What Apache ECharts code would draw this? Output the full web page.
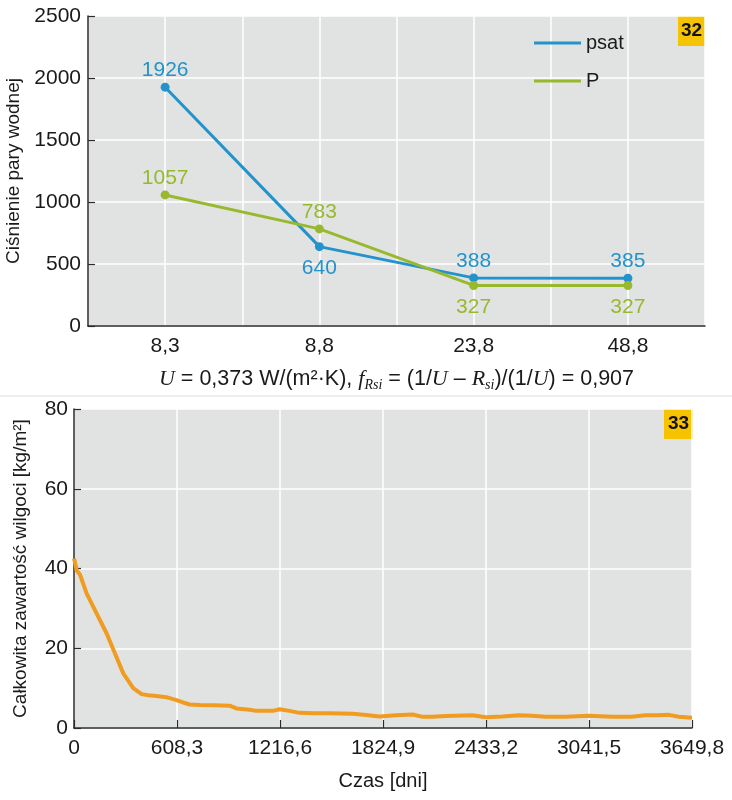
<!DOCTYPE html>
<html>
<head>
<meta charset="utf-8">
<script src="https://cdn.jsdelivr.net/npm/echarts@6/dist/echarts.min.js"></script>
<style>
html,body{margin:0;padding:0;background:#fff;}
#chart{width:732px;height:800px;}
</style>
</head>
<body>
<div id="chart"></div>
<script>
// ---- Chart 32 data ----
const categories = ['8,3', '8,8', '23,8', '48,8'];
const psatValues = [1926, 640, 388, 385];
const pValues = [1057, 783, 327, 327];
const pressureTicks = [0, 500, 1000, 1500, 2000, 2500];

// ---- Chart 33 data ----
const days = [0, 6, 16, 35, 75, 134, 193, 242, 291, 350, 399, 440, 487, 546, 566, 605, 644, 683, 743, 830, 919, 959, 1037, 1077, 1136, 1175, 1214, 1273, 1332, 1420, 1509, 1646, 1725, 1804, 1902, 2000, 2059, 2114, 2196, 2353, 2432, 2530, 2628, 2705, 2785, 2903, 3041, 3178, 3293, 3375, 3449, 3513, 3572, 3649.8];
const moisture = [42.5, 41.5, 39.5, 38.5, 33.7, 28.7, 23.7, 18.7, 13.7, 10, 8.5, 8.2, 8, 7.7, 7.5, 7, 6.4, 5.9, 5.75, 5.7, 5.6, 4.9, 4.6, 4.3, 4.3, 4.3, 4.7, 4.3, 3.8, 3.7, 3.7, 3.6, 3.25, 2.9, 3.2, 3.4, 2.8, 2.8, 3.0, 3.2, 2.7, 2.9, 3.2, 3.1, 2.8, 2.8, 3.1, 2.8, 2.8, 3.2, 3.2, 3.3, 2.8, 2.6];
const timeTickLabels = ['0', '608,3', '1216,6', '1824,9', '2433,2', '3041,5', '3649,8'];
const moistureTicks = [0, 20, 40, 60, 80];

const FONT = '"Liberation Sans", Arial, sans-serif';
const SERIF = '"Liberation Serif", "Times New Roman", serif';
const TXT = '#1a1a1a';
const AX = '#2b2b2b';
const BLUE = '#2393cc';
const GREEN = '#98b92d';
const ORANGE = '#ef9c20';
const BG = '#e1e3e3';

const chart = echarts.init(document.getElementById('chart'), null, {renderer: 'canvas'});

const moistureData = days.map((d, i) => [d, moisture[i]]);

const option = {
  animation: false,
  backgroundColor: '#ffffff',
  textStyle: {fontFamily: FONT, color: TXT},
  grid: [
    {left: 88, right: 27, top: 16, height: 310, show: true, backgroundColor: BG, borderWidth: 0, containLabel: false, outerBoundsMode: 'none'},
    {left: 74, right: 40, top: 409, height: 319, show: true, backgroundColor: BG, borderWidth: 0, containLabel: false, outerBoundsMode: 'none'}
  ],
  legend: {
    left: 529, top: 28, orient: 'vertical',
    icon: 'rect', itemWidth: 47, itemHeight: 3, itemGap: 18, itemTextGap: 7,
    textStyle: {fontSize: 20, color: TXT, fontFamily: FONT, lineHeight: 20},
    data: ['psat', 'P']
  },
  xAxis: [
    {
      type: 'category', gridIndex: 0, data: categories, boundaryGap: true,
      axisLine: {lineStyle: {color: AX, width: 1.5}},
      axisTick: {inside: true, length: 6, lineStyle: {color: AX, width: 1.2}},
      axisLabel: {fontSize: 21, color: TXT, margin: 10, fontFamily: FONT},
      splitLine: {show: false},
      name: '{i|U} = 0,373 W/(m²·K), {i|f}{sub|Rsi} = (1/{i|U} – {i|R}{sub|si})/(1/{i|U}) = 0,907',
      nameLocation: 'middle', nameGap: 40,
      nameTextStyle: {
        fontSize: 21.5, color: TXT, fontFamily: FONT,
        rich: {
          i: {fontFamily: SERIF, fontStyle: 'italic', fontSize: 22, color: TXT},
          sub: {fontFamily: SERIF, fontStyle: 'italic', fontSize: 14, color: TXT, padding: [12, 0, 0, 0]}
        }
      }
    },
    {
      type: 'value', gridIndex: 0, position: 'top', min: 0, max: 8, interval: 1,
      axisLine: {show: false}, axisTick: {show: false}, axisLabel: {show: false},
      splitLine: {show: true, lineStyle: {color: '#ffffff', width: 1.5}}
    },
    {
      type: 'value', gridIndex: 1, min: 0, max: 3649.8, interval: 608.3,
      axisLine: {lineStyle: {color: AX, width: 1.5}},
      axisTick: {inside: true, length: 8, lineStyle: {color: AX, width: 1.2}},
      axisLabel: {fontSize: 21, color: TXT, margin: 10, fontFamily: FONT,
        formatter: (v, idx) => timeTickLabels[idx] !== undefined ? timeTickLabels[idx] : ''},
      splitLine: {show: true, lineStyle: {color: '#ffffff', width: 1.5}},
      name: 'Czas [dni]', nameLocation: 'middle', nameGap: 43,
      nameTextStyle: {fontSize: 20, color: TXT, fontFamily: FONT}
    }
  ],
  yAxis: [
    {
      type: 'value', gridIndex: 0, min: pressureTicks[0], max: pressureTicks[pressureTicks.length - 1], interval: 500,
      axisLine: {show: true, lineStyle: {color: AX, width: 1.5}},
      axisTick: {show: true, inside: true, length: 7, lineStyle: {color: AX, width: 1.2}},
      axisLabel: {fontSize: 21, color: TXT, margin: 7, fontFamily: FONT, formatter: v => String(v)},
      splitLine: {show: true, lineStyle: {color: '#ffffff', width: 1.5}},
      name: 'Ciśnienie pary wodnej', nameLocation: 'middle', nameGap: 64,
      nameTextStyle: {fontSize: 19, color: TXT, fontFamily: FONT}
    },
    {
      type: 'value', gridIndex: 1, min: moistureTicks[0], max: moistureTicks[moistureTicks.length - 1], interval: 20,
      axisLine: {show: true, lineStyle: {color: AX, width: 1.5}},
      axisTick: {show: true, inside: true, length: 7, lineStyle: {color: AX, width: 1.2}},
      axisLabel: {fontSize: 21, color: TXT, margin: 6, fontFamily: FONT, formatter: v => String(v)},
      splitLine: {show: true, lineStyle: {color: '#ffffff', width: 1.5}},
      name: 'Całkowita zawartość wilgoci [kg/m²]', nameLocation: 'middle', nameGap: 44,
      nameTextStyle: {fontSize: 19, color: TXT, fontFamily: FONT}
    }
  ],
  series: [
    {
      name: 'psat', type: 'line', xAxisIndex: 0, yAxisIndex: 0, data: psatValues,
      color: BLUE, lineStyle: {width: 3, color: BLUE}, symbol: 'circle', symbolSize: 9,
      itemStyle: {color: BLUE},
      label: {show: true, color: BLUE, fontSize: 21, fontFamily: FONT, distance: 2,
        position: 'top'},
      z: 3
    },
    {
      name: 'P', type: 'line', xAxisIndex: 0, yAxisIndex: 0, data: pValues,
      color: GREEN, lineStyle: {width: 3, color: GREEN}, symbol: 'circle', symbolSize: 9,
      itemStyle: {color: GREEN},
      label: {show: true, color: GREEN, fontSize: 21, fontFamily: FONT, distance: 2,
        position: 'top'},
      z: 4
    },
    {
      name: 'moisture', type: 'line', xAxisIndex: 2, yAxisIndex: 1, data: moistureData,
      showSymbol: false, symbol: 'none', lineStyle: {width: 4, color: ORANGE}, color: ORANGE,
      z: 3
    }
  ],
  graphic: [
    {type: 'rect', left: 0, top: 395, shape: {width: 732, height: 2}, style: {fill: '#efefef'}, z: 0},
    {type: 'group', left: 678, top: 16, children: [
      {type: 'rect', shape: {x: 0, y: 0, width: 27, height: 30}, style: {fill: '#f6c300'}},
      {type: 'text', x: 13.5, y: 15, style: {text: '32', font: 'bold 19px ' + FONT, fill: '#111', align: 'center', verticalAlign: 'middle'}}
    ]},
    {type: 'group', left: 664, top: 409, children: [
      {type: 'rect', shape: {x: 0, y: 0, width: 29, height: 30}, style: {fill: '#f6c300'}},
      {type: 'text', x: 14.5, y: 15, style: {text: '33', font: 'bold 19px ' + FONT, fill: '#111', align: 'center', verticalAlign: 'middle'}}
    ]}
  ]
};

// per-point label positions (below for some points)
option.series[0].data = psatValues.map((v, i) => i === 1 ? {value: v, label: {position: 'bottom', distance: 7}} : v);
option.series[1].data = pValues.map((v, i) => i >= 2 ? {value: v, label: {position: 'bottom', distance: 7}} : v);

chart.setOption(option);
</script>
</body>
</html>
